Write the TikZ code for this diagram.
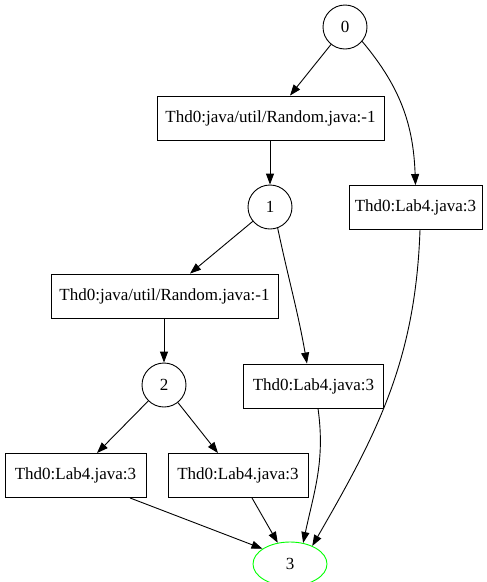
\documentclass[tikz,border=0pt]{standalone}
\usepackage{fontspec}
\setmainfont{Liberation Serif}
\usetikzlibrary{arrows.meta,shapes.geometric}
\tikzset{
  gnode/.style={draw, circle, minimum size=44pt, inner sep=0pt, line width=0.9pt, font=\fontsize{17}{20}\selectfont},
  gbox/.style={draw, rectangle, minimum height=44pt, inner sep=0pt, line width=0.9pt, font=\fontsize{17}{20}\selectfont},
  gend/.style={draw=green, ellipse, minimum width=74pt, minimum height=44pt, inner sep=0pt, line width=0.9pt, font=\fontsize{17}{20}\selectfont},
  edge/.style={-{Triangle[length=11pt,width=8pt]}, line width=0.9pt}
}
\begin{document}
\begin{tikzpicture}[x=1pt,y=-1pt]
\useasboundingbox (0,0) rectangle (487,582);
\node[gnode] (n0) at (345,27) {0};
\node[gbox, minimum width=227pt] (r1) at (270.5,118) {Thd0:java/util/Random.java:-1};
\node[gnode] (n1) at (270,207) {1};
\node[gbox, minimum width=133pt] (l1) at (415.5,207.5) {Thd0:Lab4.java:3};
\node[gbox, minimum width=227pt] (r2) at (164.5,296) {Thd0:java/util/Random.java:-1};
\node[gnode] (n2) at (164,385) {2};
\node[gbox, minimum width=140pt] (l2) at (313.5,386) {Thd0:Lab4.java:3};
\node[gbox, minimum width=141pt] (l3) at (75.5,475.5) {Thd0:Lab4.java:3};
\node[gbox, minimum width=140pt] (l4) at (238,475.5) {Thd0:Lab4.java:3};
\node[gend] (n3) at (290,564) {3};
\draw[edge] (n0) -- (r1.north -| 290,0);
\draw[edge] (n0.-40) to[out=-50,in=92] (l1.north);
\draw[edge] (r1.south -| n1) -- (n1);
\draw[edge] (n1) -- (r2.north -| 190,0);
\draw[edge] (n1.-70) to[out=-78,in=100] (l2.north -| 307,0);
\draw[edge] (r2.south -| n2) -- (n2);
\draw[edge] (n2) -- (l3.north -| 97,0);
\draw[edge] (n2) -- (l4.north -| 218,0);
\draw[edge] (l3.south -| 130,0) -- (n3.151);
\draw[edge] (l4.south -| 252,0) -- (n3.120);
\draw[edge] (l2.south -| 318,0) to[out=-82,in=78] (n3.58);
\draw[edge] (l1.south -| 420,0) to[out=-92,in=60] (n3.39);
\end{tikzpicture}
\end{document}
